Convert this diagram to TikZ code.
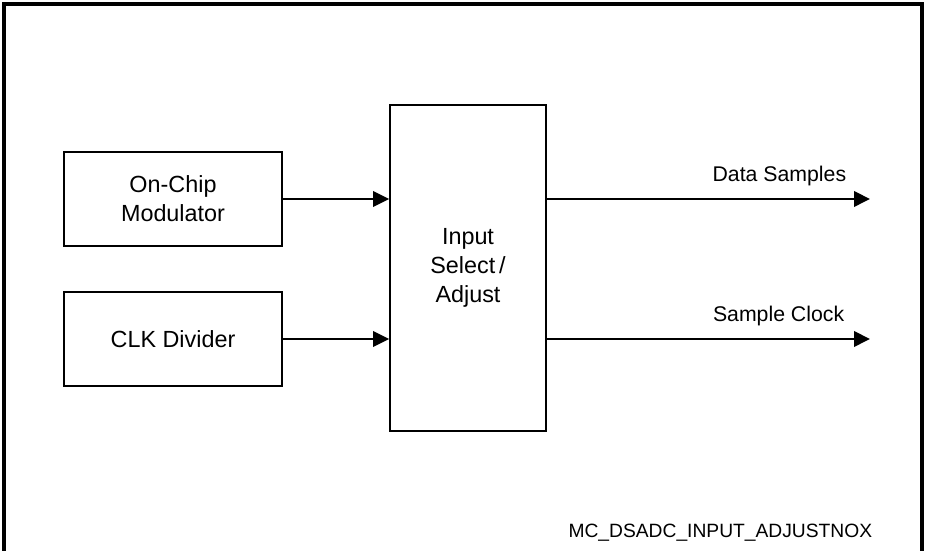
\documentclass[tikz,border=0pt]{standalone}
\usepackage{fontspec}
\setmainfont{Liberation Sans}
\usepackage{tikz}
\usetikzlibrary{arrows.meta, positioning, calc}

\tikzset{
    block/.style={draw, rectangle, line width=1pt, align=center,
        font=\fontsize{13.3}{16.6}\selectfont},
    sig/.style={font=\fontsize{12.1}{14}\selectfont},
}

\begin{document}
\begin{tikzpicture}[>={Triangle[length=0.32cm, width=0.31cm]}, line width=1.1pt]

    \useasboundingbox (0,0) rectangle (18.54,11);

    % ================= Frame =================
    \draw[line width=1.8pt] (0.08,-0.2) -- (0.08,10.92) -- (18.44,10.92) -- (18.44,-0.2);

    % ================= Input Blocks =================
    % On-Chip Modulator
    \node[block, minimum width=4.36cm, minimum height=1.88cm] (mod) at (3.46, 7.02) {On-Chip\\Modulator};
    % CLK Divider
    \node[block, minimum width=4.36cm, minimum height=1.88cm] (clkdiv) at (3.46, 4.22) {CLK Divider};

    % ================= Main Block =================
    \node[block, minimum width=3.12cm, minimum height=6.52cm] (sel) at (9.36, 5.64) {Input\\Select\,/\\Adjust};

    % ================= Inputs =================
    \draw[->] (mod.east) -- (mod.east -| sel.west);
    \draw[->] (clkdiv.east) -- (clkdiv.east -| sel.west);

    % ================= Outputs =================
    % Data Samples
    \coordinate (dsout) at (17.4, 7.02);
    \draw[->] (sel.east |- dsout) -- (dsout);
    \node[sig, anchor=base east] (dslbl) at (17.06, 7.37) {Data Samples};
    % Sample Clock
    \coordinate (scout) at (17.4, 4.22);
    \draw[->] (sel.east |- scout) -- (scout);
    \node[sig, anchor=base east] (sclbl) at (17.02, 4.57) {Sample Clock};

    % ================= Figure ID =================
    \node[font=\fontsize{10.95}{13}\selectfont, anchor=base east] (figid) at (17.58, 0.26) {MC\_DSADC\_INPUT\_ADJUSTNOX};

\end{tikzpicture}
\end{document}
